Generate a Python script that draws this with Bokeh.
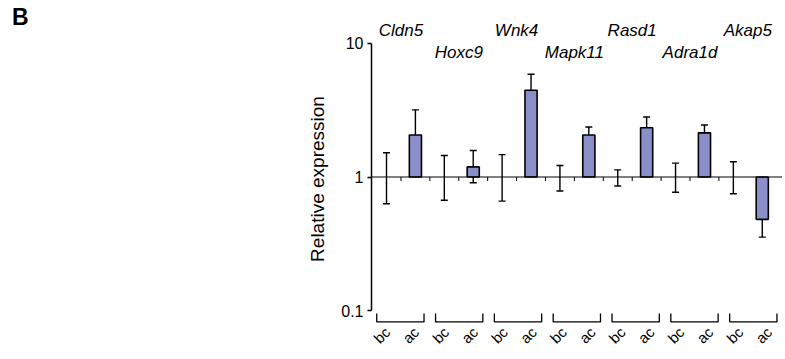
import math
from bokeh.plotting import figure
from bokeh.layouts import row
from bokeh.models import (Range1d, Whisker, TeeHead, ColumnDataSource, Span,
                          FixedTicker, CustomJSTickFormatter, Div)
from bokeh.core.properties import value
from bokeh.embed import file_html
from bokeh.resources import INLINE

# ---------------- data ----------------
genes = ["Cldn5", "Hoxc9", "Wnk4", "Mapk11", "Rasd1", "Adra1d", "Akap5"]
conditions = ["bc", "ac"]
bc_mean = [1, 1, 1, 1, 1, 1, 1]
bc_upper = [1.52, 1.45, 1.47, 1.22, 1.13, 1.27, 1.30]
bc_lower = [0.63, 0.67, 0.66, 0.785, 0.856, 0.768, 0.75]
ac_mean = [2.06, 1.19, 4.46, 2.06, 2.34, 2.14, 0.482]
ac_upper = [3.18, 1.58, 5.88, 2.37, 2.81, 2.45, 0.642]
ac_lower = [1.34, 0.906, 3.25, 1.76, 1.88, 1.80, 0.355]
y_ticks = [0.1, 1, 10]

# ---------------- layout ----------------
FONT = "Liberation Sans"
DIV_W = 290
H = 357
FIG_W = 492
LEFT = 81
DECADE_PX = 133.6            # pixels per decade on the log axis
n = len(genes)
bc_x = [2 * g for g in range(n)]
ac_x = [2 * g + 1 for g in range(n)]
group_x = [2 * g + 0.5 for g in range(n)]
drift = [0.035 * g - 0.02 for g in range(n)]   # hand-assembled offset of lower labels


def px_down(v, px):
    """value located px pixels below v on the log axis"""
    return v * 10 ** (-px / DECADE_PX)


p = figure(width=FIG_W, height=H, output_backend="svg", toolbar_location=None,
           y_axis_type="log", x_axis_location=None,
           x_range=Range1d(-0.519, 13.70), y_range=Range1d(0.04456, 20.95),
           min_border_left=LEFT, min_border_right=0, min_border_top=0,
           min_border_bottom=0, margin=0)
p.outline_line_color = None
p.xgrid.visible = False
p.ygrid.visible = False
p.background_fill_color = "white"

ax = p.yaxis[0]
ax.ticker = FixedTicker(ticks=y_ticks)
ax.formatter = CustomJSTickFormatter(code="return String(tick)")
ax.bounds = (min(y_ticks), max(y_ticks))
ax.minor_tick_line_color = None
ax.major_tick_in = 0
ax.major_tick_out = 4
ax.axis_line_width = 1.5
ax.major_tick_line_width = 1.5
ax.axis_line_color = "black"
ax.major_tick_line_color = "black"
ax.major_label_standoff = 4
ax.major_label_text_font = FONT
ax.major_label_text_font_size = "16px"
ax.major_label_text_color = "black"
ax.axis_label = "Relative expression"
ax.axis_label_text_font = FONT
ax.axis_label_text_font_size = "19px"
ax.axis_label_text_font_style = "normal"
ax.axis_label_text_color = "black"
ax.axis_label_standoff = 10

# baseline at 1
p.add_layout(Span(location=1, dimension="width", line_color="black", line_width=1))
bounds_x = [k + 0.5 for k in range(2 * n - 2)]
p.segment(x0=bounds_x, x1=bounds_x, y0=[1] * len(bounds_x),
          y1=[px_down(1, 4)] * len(bounds_x), line_color="black", line_width=1)

# bars
p.vbar(x=ac_x, width=0.42, bottom=1, top=ac_mean, fill_color="#8a8ec9",
       line_color="black", line_width=1.6)

# error bars
for xs, up, lo in ((bc_x, bc_upper, bc_lower), (ac_x, ac_upper, ac_lower)):
    src = ColumnDataSource(dict(x=xs, upper=up, lower=lo))
    p.add_layout(Whisker(base="x", upper="upper", lower="lower", source=src,
                         line_color="black", line_width=1.4,
                         upper_head=TeeHead(size=7, line_width=1.4, line_color="black"),
                         lower_head=TeeHead(size=7, line_width=1.4, line_color="black")))

# brackets under each gene
br_top, br_bot = 0.0951, 0.0822
half = 0.818
xs_br, ys_br = [], []
for g in range(n):
    c = group_x[g] + drift[g]
    xs_br.append([c - half, c - half, c + half, c + half])
    ys_br.append([br_top, br_bot, br_bot, br_top])
p.multi_line(xs_br, ys_br, line_color="black", line_width=1.3)

# condition labels (rotated 45 degrees)
lab_x, lab_t = [], []
for g in range(n):
    for k, cond in enumerate(conditions):
        lab_x.append(2 * g + k + drift[g] + 0.05)
        lab_t.append(cond)
p.text(x=lab_x, y=[0.0722] * len(lab_x), text=lab_t,
       angle=45, angle_units="deg",
       text_align="right", text_baseline="middle",
       text_font=value(FONT), text_font_size="15px", text_color="black")

# gene labels, alternating rows
gene_y = [12.49 if g % 2 == 0 else 8.55 for g in range(n)]
p.text(x=group_x, y=gene_y, text=genes, text_align="center",
       text_baseline="alphabetic", text_font=value(FONT), text_font_size="17px",
       text_font_style="italic", text_color="black")

# panel letter
letter = Div(text='<div style="font-family: \'Liberation Sans\'; font-weight: bold; '
                  'font-size: 23px; line-height: 1; margin: 6px 0 0 12px;">B</div>',
             width=DIV_W, height=H, margin=0)

layout = row(letter, p, spacing=0)
open("out.html", "w").write(file_html(layout, INLINE))
